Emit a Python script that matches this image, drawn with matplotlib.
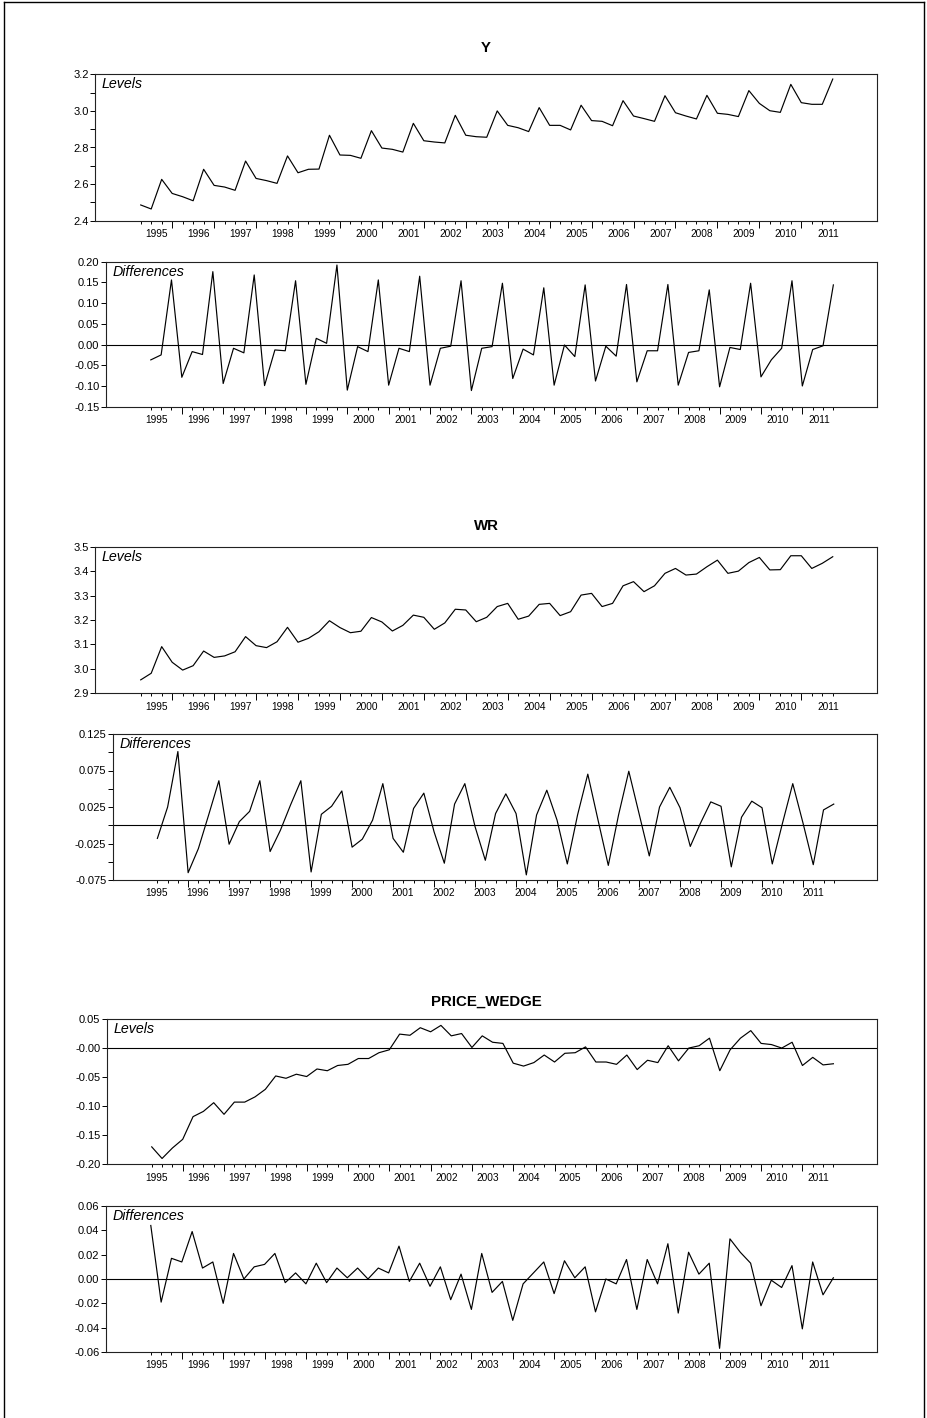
import numpy as np
import matplotlib
matplotlib.use("Agg")
import matplotlib.pyplot as plt
from matplotlib.ticker import FixedLocator, FuncFormatter
from matplotlib.lines import Line2D

plt.rcParams['font.family'] = ['Liberation Sans', 'DejaVu Sans']

# ---------------- data (quarterly observations, 67 quarters) ----------------
years = [str(y) for y in range(1995, 2012)]

y_levels = [2.486, 2.464, 2.626, 2.549, 2.531, 2.509, 2.681, 2.593, 2.584, 2.566,
            2.726, 2.631, 2.619, 2.604, 2.754, 2.662, 2.681, 2.682, 2.867, 2.759,
            2.757, 2.741, 2.892, 2.797, 2.790, 2.775, 2.932, 2.837, 2.830, 2.825,
            2.976, 2.867, 2.859, 2.856, 3.000, 2.921, 2.908, 2.887, 3.018, 2.921,
            2.921, 2.896, 3.031, 2.947, 2.943, 2.919, 3.056, 2.972, 2.958, 2.943,
            3.083, 2.990, 2.972, 2.956, 3.085, 2.987, 2.981, 2.969, 3.111, 3.041,
            3.001, 2.992, 3.145, 3.045, 3.036, 3.036, 3.174]

y_diffs = [-0.037, -0.025, 0.156, -0.079, -0.017, -0.024, 0.176, -0.094, -0.009, -0.020,
           0.168, -0.099, -0.013, -0.015, 0.154, -0.096, 0.015, 0.003, 0.192, -0.110,
           -0.005, -0.017, 0.156, -0.098, -0.009, -0.017, 0.165, -0.098, -0.009, -0.004,
           0.154, -0.111, -0.009, -0.005, 0.148, -0.082, -0.011, -0.025, 0.137, -0.098,
           -0.001, -0.029, 0.144, -0.088, -0.004, -0.028, 0.145, -0.090, -0.015, -0.015,
           0.145, -0.098, -0.019, -0.015, 0.132, -0.102, -0.007, -0.012, 0.148, -0.078,
           -0.037, -0.009, 0.154, -0.100, -0.012, -0.003, 0.144]

wr_levels = [2.955, 2.982, 3.091, 3.027, 2.995, 3.013, 3.073, 3.047, 3.053, 3.070,
             3.132, 3.095, 3.087, 3.111, 3.170, 3.109, 3.125, 3.152, 3.197, 3.169,
             3.148, 3.154, 3.210, 3.192, 3.155, 3.178, 3.220, 3.211, 3.162, 3.188,
             3.244, 3.241, 3.193, 3.211, 3.255, 3.268, 3.203, 3.216, 3.264, 3.268,
             3.218, 3.234, 3.302, 3.309, 3.255, 3.268, 3.340, 3.357, 3.316, 3.340,
             3.391, 3.411, 3.384, 3.388, 3.418, 3.445, 3.391, 3.400, 3.435, 3.456,
             3.405, 3.406, 3.463, 3.463, 3.411, 3.432, 3.459]

wr_diffs = [-0.018, 0.025, 0.101, -0.065, -0.032, 0.014, 0.061, -0.026, 0.005, 0.019,
            0.061, -0.036, -0.007, 0.028, 0.061, -0.064, 0.015, 0.026, 0.047, -0.030,
            -0.019, 0.007, 0.057, -0.018, -0.037, 0.023, 0.044, -0.009, -0.052, 0.029,
            0.057, -0.002, -0.048, 0.016, 0.043, 0.016, -0.068, 0.014, 0.048, 0.007,
            -0.053, 0.014, 0.070, 0.007, -0.055, 0.014, 0.074, 0.016, -0.042, 0.025,
            0.052, 0.024, -0.029, 0.003, 0.032, 0.026, -0.057, 0.011, 0.033, 0.024,
            -0.053, 0.003, 0.057, 0.003, -0.054, 0.021, 0.029]

pw_levels = [-0.170, -0.190, -0.172, -0.157, -0.118, -0.109, -0.094, -0.114, -0.093, -0.093,
             -0.084, -0.071, -0.048, -0.052, -0.045, -0.049, -0.036, -0.039, -0.030, -0.028,
             -0.018, -0.018, -0.008, -0.003, 0.024, 0.022, 0.035, 0.028, 0.039, 0.021,
             0.025, 0.001, 0.021, 0.010, 0.008, -0.026, -0.031, -0.025, -0.012, -0.024,
             -0.009, -0.008, 0.002, -0.024, -0.024, -0.028, -0.012, -0.037, -0.021, -0.025,
             0.004, -0.022, 0.000, 0.004, 0.017, -0.039, -0.003, 0.017, 0.030, 0.008,
             0.006, 0.000, 0.010, -0.030, -0.016, -0.029, -0.027]

pw_diffs = [0.044, -0.019, 0.017, 0.014, 0.039, 0.009, 0.014, -0.020, 0.021, 0.000,
            0.010, 0.012, 0.021, -0.003, 0.005, -0.004, 0.013, -0.003, 0.009, 0.001,
            0.009, 0.000, 0.009, 0.005, 0.027, -0.002, 0.013, -0.006, 0.010, -0.017,
            0.004, -0.025, 0.021, -0.011, -0.002, -0.034, -0.004, 0.005, 0.014, -0.012,
            0.015, 0.001, 0.010, -0.027, 0.000, -0.004, 0.016, -0.025, 0.016, -0.004,
            0.029, -0.028, 0.022, 0.004, 0.013, -0.057, 0.033, 0.022, 0.013, -0.022,
            -0.001, -0.007, 0.011, -0.041, 0.014, -0.013, 0.001]

# ---------------- layout ----------------
W, H = 927, 1418
fig = plt.figure(figsize=(W / 100, H / 100), dpi=100)

def add_ax(l, t, r, b):
    return fig.add_axes([l / W, 1 - b / H, (r - l) / W, (b - t) / H])

n = len(y_levels)
quarters = np.arange(n)
major_q = [q for q in quarters if q % 4 == 3]
minor_q = [q for q in quarters if q % 4 != 3]
XLIM = (-4.36, 70.22)
FIRST_LABEL_PX = 157.0   # first year label sits at the same place in every panel

def fmt(dec, neg_zero=False):
    def f(v, pos):
        if abs(v) < 1e-9:
            return ("-" if neg_zero else "") + "0." + "0" * dec
        return f"{v:.{dec}f}"
    return FuncFormatter(f)

panels = [
    # (box, data, title, label, ylim, major, minor, decimals, zero line, neg zero)
    ((95, 74.3, 877, 220.7), y_levels, "Y", "Levels", (2.4, 3.2),
     np.arange(2.4, 3.21, 0.2), np.arange(2.5, 3.2, 0.2), 1, False, False),
    ((105.7, 261.7, 877, 406.7), y_diffs, None, "Differences", (-0.15, 0.20),
     np.arange(-0.15, 0.201, 0.05), [], 2, True, False),
    ((95, 546.7, 877, 693.3), wr_levels, "WR", "Levels", (2.9, 3.5),
     np.arange(2.9, 3.501, 0.1), [], 1, False, False),
    ((112.7, 734, 877, 880), wr_diffs, None, "Differences", (-0.075, 0.125),
     np.arange(-0.075, 0.1251, 0.05), np.arange(-0.05, 0.101, 0.05), 3, True, False),
    ((106.7, 1019, 877, 1164.3), pw_levels, "PRICE_WEDGE", "Levels", (-0.20, 0.05),
     np.arange(-0.20, 0.0501, 0.05), [], 2, True, True),
    ((105.7, 1206, 877, 1352), pw_diffs, None, "Differences", (-0.06, 0.06),
     np.arange(-0.06, 0.0601, 0.02), [], 2, True, False),
]

title_y = {"Y": 48, "WR": 526, "PRICE_WEDGE": 1002}

for box, data, title, lab, ylim, ymaj, ymin, dec, zline, negz in panels:
    ax = add_ax(*box)
    ax.plot(quarters, data, color="black", lw=0.85)
    if zline:
        ax.axhline(0, color="black", lw=0.8)
    ax.set_xlim(*XLIM)
    ax.set_ylim(*ylim)
    for s in ax.spines.values():
        s.set_linewidth(0.8)
        s.set_color("#222222")
    ax.xaxis.set_major_locator(FixedLocator(major_q))
    ax.xaxis.set_minor_locator(FixedLocator(minor_q))
    ax.xaxis.set_major_formatter(FuncFormatter(lambda v, p: ""))
    ax.tick_params(axis="x", which="major", direction="out", length=5.0, width=0.7,
                   top=False, bottom=True)
    ax.tick_params(axis="x", which="minor", direction="out", length=2.0, width=0.7,
                   top=False, bottom=True)
    ax.yaxis.set_major_locator(FixedLocator(ymaj))
    ax.yaxis.set_minor_locator(FixedLocator(ymin))
    ax.yaxis.set_major_formatter(fmt(dec, negz))
    ax.tick_params(axis="y", which="major", direction="out", length=3.6, width=0.7,
                   labelsize=8, pad=1.0, right=False)
    ax.tick_params(axis="y", which="minor", direction="out", length=3.6, width=0.7,
                   right=False)
    # year labels: first label at a fixed pixel position, then one every 4 quarters
    x0, x1 = ax.get_xlim()
    pos = ax.get_position()
    px_left, px_right = pos.x0 * W, pos.x1 * W
    k_start = x0 + (FIRST_LABEL_PX - px_left) / (px_right - px_left) * (x1 - x0)
    label_pos = [k_start + 4 * j for j in range(len(years))]
    sec = ax.secondary_xaxis("bottom")
    sec.set_xticks(label_pos, labels=years)
    sec.tick_params(length=0, pad=6.0, labelsize=7.3)
    sec.spines["bottom"].set_visible(False)
    ax.annotate(lab, xy=(0, 1), xycoords="axes fraction", xytext=(4.8, -2.3),
                textcoords="offset points", ha="left", va="top",
                fontsize=10.3, style="italic")
    if title:
        fig.text(486 / W, 1 - title_y[title] / H, title, ha="center", va="center",
                 fontsize=10.8, fontweight="bold")

# outer frame (left, top, right)
fig.add_artist(Line2D([4 / W, 4 / W], [0, 1 - 2 / H], transform=fig.transFigure,
                      color="black", lw=1.0))
fig.add_artist(Line2D([4 / W, 924 / W], [1 - 2 / H, 1 - 2 / H], transform=fig.transFigure,
                      color="black", lw=1.0))
fig.add_artist(Line2D([924 / W, 924 / W], [0, 1 - 2 / H], transform=fig.transFigure,
                      color="black", lw=1.0))

fig.savefig("out.png", dpi=100)
